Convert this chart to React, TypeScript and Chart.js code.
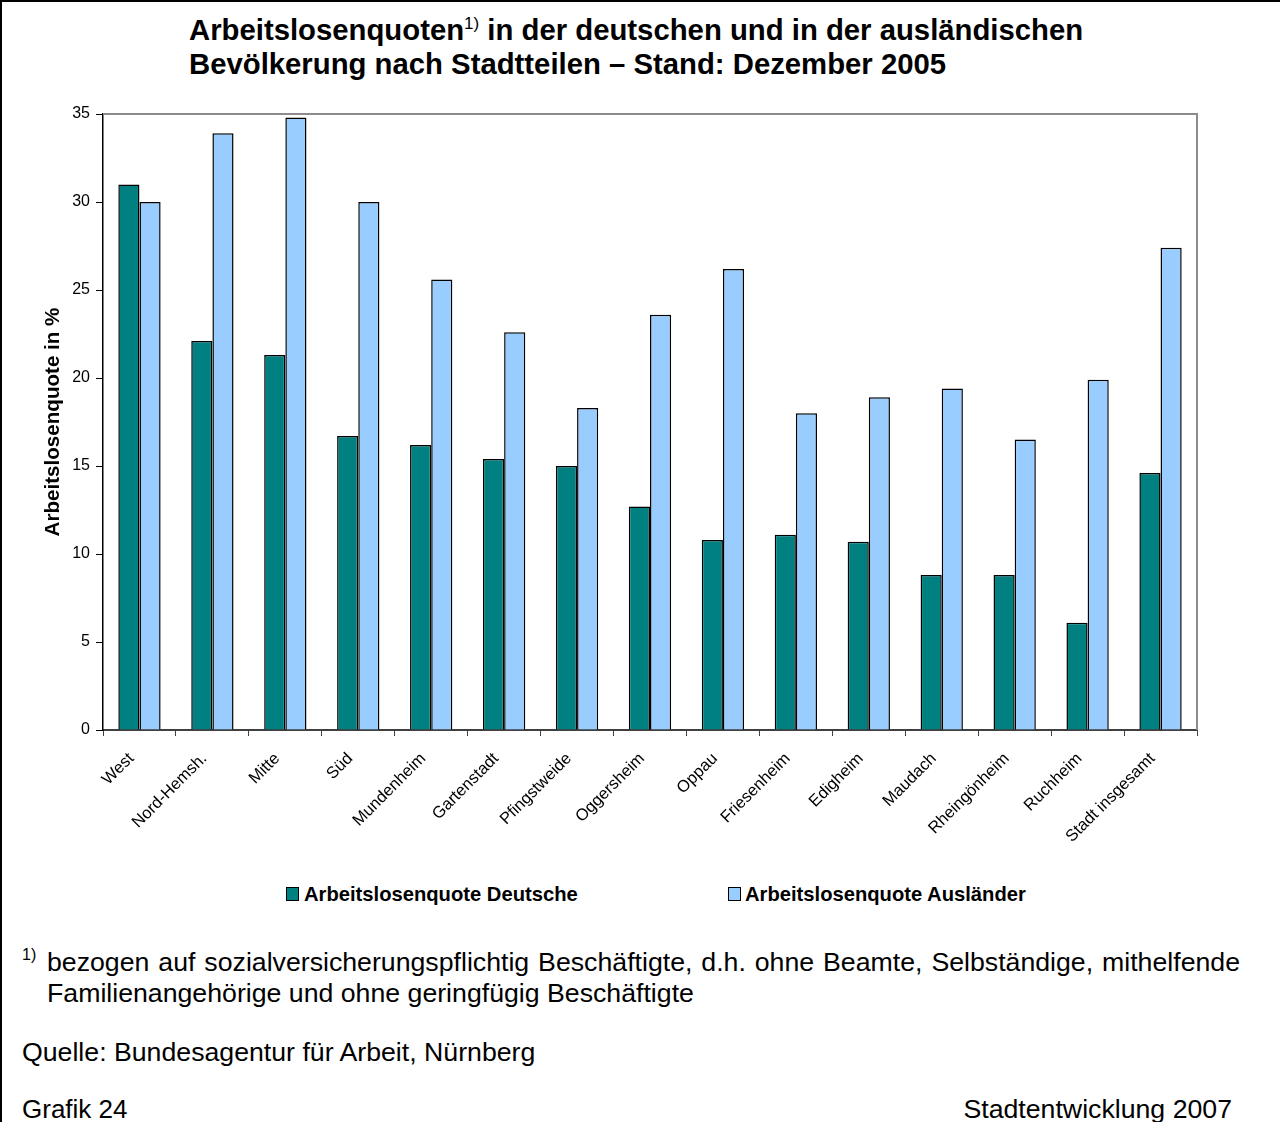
import React, { useEffect, useRef } from "react";
import { Chart, registerables } from "chart.js";

Chart.register(...registerables);

const categories = [
  "West",
  "Nord-Hemsh.",
  "Mitte",
  "Süd",
  "Mundenheim",
  "Gartenstadt",
  "Pfingstweide",
  "Oggersheim",
  "Oppau",
  "Friesenheim",
  "Edigheim",
  "Maudach",
  "Rheingönheim",
  "Ruchheim",
  "Stadt insgesamt",
];

const deutsche = [31.0, 22.1, 21.3, 16.7, 16.2, 15.4, 15.0, 12.7, 10.8, 11.1, 10.7, 8.8, 8.8, 6.1, 14.6];
const auslaender = [30.0, 33.9, 34.8, 30.0, 25.6, 22.6, 18.3, 23.6, 26.2, 18.0, 18.9, 19.4, 16.5, 19.9, 27.4];

const seriesNames = ["Arbeitslosenquote Deutsche", "Arbeitslosenquote Ausländer"];
const seriesColors = ["#008080", "#99CCFF"];

const yMin = 0;
const yMax = 35;
const yStep = 5;

const FONT = "'Liberation Sans', Arial, Helvetica, sans-serif";

const framePlugin = {
  id: "plotFrame",
  beforeDatasetsDraw(chart: any) {
    const { ctx, chartArea } = chart;
    const { left, top, right, bottom } = chartArea;
    ctx.save();
    ctx.strokeStyle = "#8c8c8c";
    ctx.lineWidth = 2;
    ctx.beginPath();
    ctx.moveTo(left, top);
    ctx.lineTo(right, top);
    ctx.lineTo(right, bottom);
    ctx.stroke();
    ctx.restore();
  },
};

function BarChart() {
  const ref = useRef<HTMLCanvasElement | null>(null);
  useEffect(() => {
    if (!ref.current) return;
    const chart = new Chart(ref.current, {
      type: "bar",
      data: {
        labels: categories,
        datasets: [
          {
            label: seriesNames[0],
            data: deutsche,
            backgroundColor: seriesColors[0],
            borderColor: "#000",
            borderWidth: 1.5,
            categoryPercentage: 0.58,
            barPercentage: 1,
          },
          {
            label: seriesNames[1],
            data: auslaender,
            backgroundColor: seriesColors[1],
            borderColor: "#000",
            borderWidth: 1.5,
            categoryPercentage: 0.58,
            barPercentage: 1,
          },
        ],
      },
      options: {
        responsive: false,
        animation: false,
        devicePixelRatio: 1,
        layout: { padding: { top: 24, right: 83, bottom: 0, left: 0 } },
        plugins: {
          legend: { display: false },
          title: { display: false },
          tooltip: { enabled: false },
        },
        scales: {
          x: {
            grid: {
              offset: true,
              drawOnChartArea: false,
              drawTicks: true,
              tickLength: 6,
              color: "#404040",
              lineWidth: 1,
            },
            border: { display: true, color: "#404040", width: 2 },
            ticks: {
              autoSkip: false,
              maxRotation: 45,
              minRotation: 45,
              color: "#000",
              font: { family: FONT, size: 16.5 },
              padding: 13,
              labelOffset: -8,
            },
            afterFit: (s: any) => {
              s.height = 150;
            },
          },
          y: {
            min: yMin,
            max: yMax,
            ticks: {
              stepSize: yStep,
              color: "#000",
              font: { family: FONT, size: 16 },
              padding: 6,
            },
            grid: {
              drawOnChartArea: false,
              drawTicks: true,
              tickLength: 7,
              color: "#000",
            },
            border: { display: true, color: "#000", width: 1.5 },
            title: {
              display: true,
              text: "Arbeitslosenquote in %",
              color: "#000",
              font: { family: FONT, size: 20.6, weight: "bold" },
              padding: { top: 41, bottom: 0 },
            },
            afterFit: (s: any) => {
              s.width = 103;
            },
          },
        },
      },
      plugins: [framePlugin],
    } as any);
    return () => chart.destroy();
  }, []);
  return (
    <canvas
      ref={ref}
      width={1280}
      height={790}
      style={{ position: "absolute", left: 0, top: 90, width: 1280, height: 790, display: "block" }}
    />
  );
}

export default function App() {
  useEffect(() => {
    document.body.style.margin = "0";
  }, []);
  const text: React.CSSProperties = { position: "absolute", fontFamily: FONT, color: "#000", whiteSpace: "nowrap" };
  return (
    <div style={{ position: "absolute", left: 0, top: 0, width: 1280, height: 1122, background: "#fff", overflow: "hidden" }}>
      <div
        style={{
          position: "absolute",
          left: 0,
          top: 0,
          width: 1280,
          height: 1122,
          borderLeft: "2px solid #000",
          borderTop: "2px solid #000",
          boxSizing: "border-box",
        }}
      />
      <div style={{ ...text, left: 189, top: 13, fontSize: 29.3, fontWeight: "bold", lineHeight: "34px" }}>
        Arbeitslosenquoten
        <span style={{ fontSize: 17, fontWeight: "normal", position: "relative", top: -11, lineHeight: 0 }}>1)</span> in der deutschen
        und in der ausländischen
        <br />
        Bevölkerung nach Stadtteilen – Stand: Dezember 2005
      </div>
      <BarChart />
      {/* Legend */}
      <div
        style={{
          position: "absolute",
          left: 286,
          top: 887,
          width: 11,
          height: 12,
          background: seriesColors[0],
          border: "1px solid #000",
        }}
      />
      <div style={{ ...text, left: 304, top: 882, fontSize: 20.2, fontWeight: "bold", lineHeight: "24px" }}>{seriesNames[0]}</div>
      <div
        style={{
          position: "absolute",
          left: 728,
          top: 887,
          width: 11,
          height: 12,
          background: seriesColors[1],
          border: "1px solid #000",
        }}
      />
      <div style={{ ...text, left: 745, top: 882, fontSize: 20.2, fontWeight: "bold", lineHeight: "24px" }}>{seriesNames[1]}</div>
      {/* Footnote */}
      <div style={{ ...text, left: 22, top: 946, fontSize: 16, lineHeight: "18px" }}>1)</div>
      <div
        style={{
          ...text,
          left: 47,
          top: 947,
          width: 1193,
          fontSize: 26.7,
          lineHeight: "31px",
          whiteSpace: "normal",
          textAlign: "justify",
          textAlignLast: "left",
        }}
      >
        bezogen auf sozialversicherungspflichtig Beschäftigte, d.h. ohne Beamte, Selbständige, mithelfende Familienangehörige und
        ohne geringfügig Beschäftigte
      </div>
      <div style={{ ...text, left: 22, top: 1035, fontSize: 26.7, lineHeight: "34px" }}>Quelle: Bundesagentur für Arbeit, Nürnberg</div>
      <div style={{ ...text, left: 22, top: 1092, fontSize: 26, lineHeight: "34px" }}>Grafik 24</div>
      <div style={{ ...text, right: 48, top: 1092, fontSize: 26.7, lineHeight: "34px" }}>Stadtentwicklung 2007</div>
    </div>
  );
}
